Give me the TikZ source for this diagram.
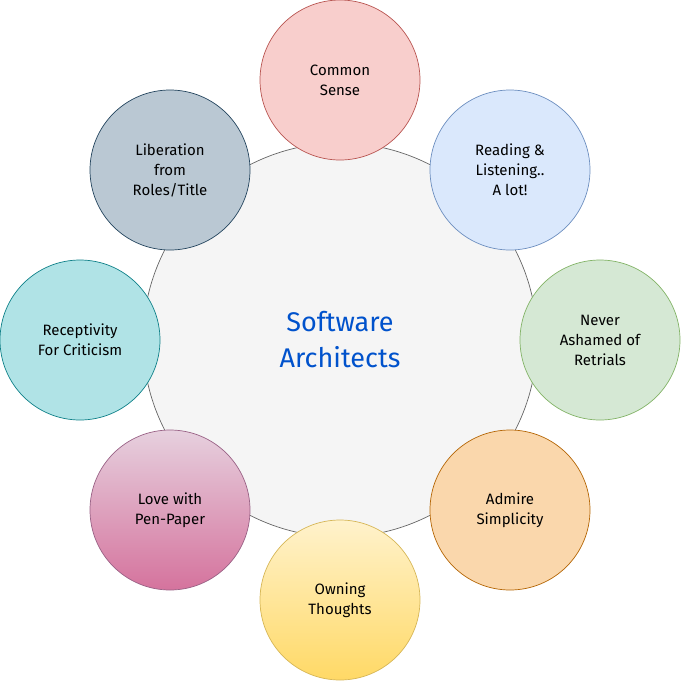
\documentclass[tikz,border=0pt]{standalone}
\usepackage{fontspec}
\setmainfont{Fira Sans}
\begin{document}
\begin{tikzpicture}[x=1pt,y=-1pt,
  petal/.style={circle,draw,line width=0.7pt,minimum size=160pt,inner sep=0pt,align=center,font=\fontsize{15}{20}\selectfont},
  center/.style={circle,draw=gray!80!black,fill=black!4,line width=0.7pt,minimum size=394pt,align=center,text=blue!60!cyan!80!black,font=\fontsize{27}{36}\selectfont}]
\useasboundingbox (0,0) rectangle (681,681);
\node[center] (c) at (340,340) {Software\\Architects};
\node[petal,draw={rgb,255:red,184;green,84;blue,80},fill={rgb,255:red,248;green,206;blue,204}] (p1) at (340,80) {Common\\Sense};
\node[petal,draw={rgb,255:red,108;green,142;blue,191},fill={rgb,255:red,218;green,232;blue,252}] (p2) at (510,170) {Reading \&\\Listening..\\A lot!};
\node[petal,draw={rgb,255:red,130;green,179;blue,102},fill={rgb,255:red,213;green,232;blue,212}] (p3) at (600,340) {Never\\Ashamed of\\Retrials};
\node[petal,draw={rgb,255:red,180;green,101;blue,4},fill={rgb,255:red,250;green,215;blue,172}] (p4) at (510,510) {Admire\\Simplicity};
\node[petal,draw={rgb,255:red,214;green,182;blue,86},top color={rgb,255:red,255;green,242;blue,204},bottom color={rgb,255:red,255;green,217;blue,102}] (p5) at (340,600) {Owning\\Thoughts};
\node[petal,draw={rgb,255:red,153;green,97;blue,133},top color={rgb,255:red,230;green,208;blue,222},bottom color={rgb,255:red,213;green,115;blue,157}] (p6) at (170,510) {Love with\\Pen-Paper};
\node[petal,draw={rgb,255:red,14;green,128;blue,136},fill={rgb,255:red,176;green,227;blue,230}] (p7) at (80,340) {Receptivity\\For Criticism};
\node[petal,draw={rgb,255:red,35;green,68;blue,93},fill={rgb,255:red,186;green,200;blue,211}] (p8) at (170,170) {Liberation\\from\\Roles/Title};
\end{tikzpicture}
\end{document}
